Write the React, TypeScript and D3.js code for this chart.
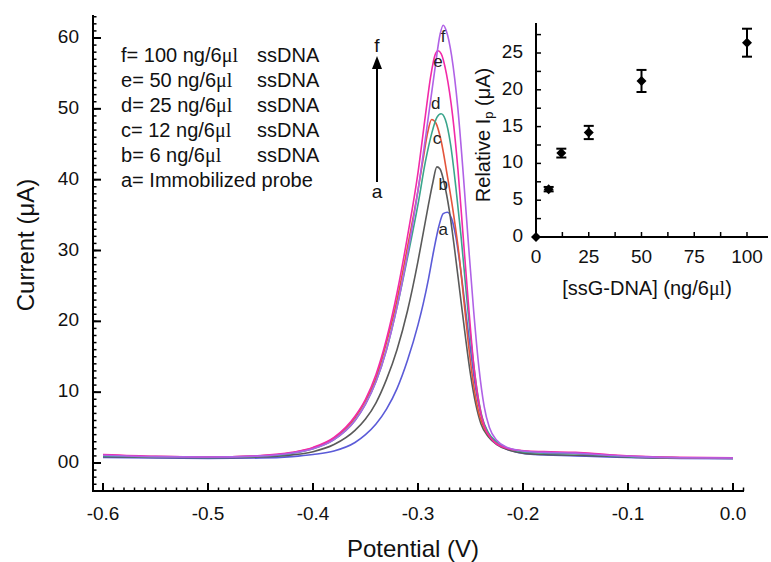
import React from "react";
import * as d3 from "d3";

// ---------- DATA ----------
const curveNames = ["a", "b", "c", "d", "e", "f"];
const curveColors = ["#5b5bd8", "#5a5a5a", "#e4553c", "#3aa58c", "#f22aa8", "#b062e6"];

const curveA: [number, number][] = [[-0.60,0.8],[-0.55,0.7],[-0.50,0.65],[-0.45,0.7],[-0.42,0.9],[-0.40,1.2],[-0.38,1.7],[-0.36,2.9],[-0.35,4],[-0.34,5.5],[-0.33,7.6],[-0.32,10.5],[-0.31,14.5],[-0.30,19.5],[-0.295,22.5],[-0.29,26],[-0.285,30],[-0.28,33.5],[-0.276,35.2],[-0.272,35.4],[-0.268,34.5],[-0.264,32],[-0.26,28],[-0.255,22],[-0.25,16],[-0.245,10.5],[-0.24,6.8],[-0.234,4.4],[-0.227,3],[-0.218,2.1],[-0.205,1.5],[-0.19,1.2],[-0.15,1.0],[-0.12,0.85],[-0.09,0.75],[-0.05,0.65],[0,0.6]];
const curveB: [number, number][] = [[-0.60,0.9],[-0.55,0.8],[-0.50,0.75],[-0.45,0.85],[-0.42,1.15],[-0.40,1.6],[-0.38,2.6],[-0.36,4.6],[-0.35,6.2],[-0.34,8.5],[-0.33,11.8],[-0.32,16],[-0.31,21.5],[-0.30,28.5],[-0.295,32.5],[-0.29,36.5],[-0.286,39.5],[-0.282,41.8],[-0.279,41.5],[-0.275,39.5],[-0.27,35.5],[-0.265,30],[-0.26,24],[-0.255,18],[-0.25,12.5],[-0.245,8.3],[-0.24,5.5],[-0.233,3.7],[-0.225,2.6],[-0.215,1.9],[-0.20,1.4],[-0.18,1.2],[-0.15,1.1],[-0.12,0.95],[-0.09,0.8],[-0.05,0.7],[0,0.65]];
const curveC: [number, number][] = [[-0.60,1.1],[-0.55,0.9],[-0.50,0.85],[-0.45,1.0],[-0.42,1.45],[-0.40,2.1],[-0.38,3.5],[-0.36,6.4],[-0.35,8.8],[-0.34,12],[-0.33,17],[-0.32,23],[-0.31,30.5],[-0.30,38.5],[-0.295,43],[-0.291,46.5],[-0.287,48.5],[-0.283,48],[-0.278,45.5],[-0.272,40.5],[-0.266,35],[-0.261,29.5],[-0.256,22.5],[-0.251,15.5],[-0.246,10],[-0.241,6.5],[-0.235,4.4],[-0.227,3],[-0.215,2.1],[-0.20,1.7],[-0.18,1.5],[-0.15,1.4],[-0.12,1.1],[-0.09,0.9],[-0.05,0.75],[0,0.7]];
const curveD: [number, number][] = [[-0.60,1.0],[-0.55,0.85],[-0.50,0.8],[-0.45,0.95],[-0.42,1.35],[-0.40,2.0],[-0.38,3.3],[-0.36,6.0],[-0.35,8.3],[-0.34,11.5],[-0.33,16],[-0.32,22],[-0.31,29],[-0.30,36.5],[-0.293,42.5],[-0.287,46.5],[-0.282,48.8],[-0.278,49.3],[-0.274,48.5],[-0.269,45],[-0.264,39],[-0.259,32],[-0.254,24],[-0.249,16.5],[-0.244,10.5],[-0.239,6.5],[-0.233,4.3],[-0.225,3],[-0.215,2.1],[-0.20,1.6],[-0.18,1.4],[-0.15,1.3],[-0.12,1.05],[-0.09,0.85],[-0.05,0.75],[0,0.7]];
const curveE: [number, number][] = [[-0.60,1.2],[-0.55,0.95],[-0.50,0.85],[-0.45,1.05],[-0.42,1.5],[-0.40,2.2],[-0.38,3.6],[-0.36,6.6],[-0.35,9],[-0.34,12.5],[-0.33,17.5],[-0.32,24],[-0.31,32],[-0.30,41],[-0.293,49],[-0.288,54.5],[-0.284,57.5],[-0.281,58.2],[-0.278,57.8],[-0.273,55],[-0.267,49],[-0.262,41.5],[-0.257,32],[-0.252,22.5],[-0.247,14],[-0.242,8.5],[-0.237,5.3],[-0.23,3.4],[-0.22,2.3],[-0.205,1.8],[-0.18,1.6],[-0.15,1.5],[-0.12,1.2],[-0.09,0.95],[-0.05,0.8],[0,0.75]];
const curveF: [number, number][] = [[-0.60,1.1],[-0.55,0.9],[-0.50,0.85],[-0.45,1.0],[-0.42,1.4],[-0.40,2.0],[-0.38,3.3],[-0.36,6.0],[-0.35,8.3],[-0.34,11.5],[-0.33,16],[-0.32,22],[-0.31,29.5],[-0.30,38.5],[-0.29,49],[-0.284,55.5],[-0.279,60.5],[-0.276,61.8],[-0.273,61],[-0.268,57.5],[-0.262,50],[-0.257,41],[-0.252,31],[-0.247,21.5],[-0.242,13.5],[-0.237,8],[-0.232,5],[-0.225,3.2],[-0.215,2.2],[-0.20,1.7],[-0.18,1.5],[-0.15,1.4],[-0.12,1.1],[-0.09,0.9],[-0.05,0.75],[0,0.7]];
const curves = [curveA, curveB, curveC, curveD, curveE, curveF];

// curve letter label positions (potential, current)
const curveLabelPos: [number, number][] = [[-0.276, 32.8], [-0.276, 39.2], [-0.282, 45.6], [-0.283, 50.6], [-0.281, 56.5], [-0.276, 60.0]];

const xTicks = [-0.6, -0.5, -0.4, -0.3, -0.2, -0.1, 0.0];
const xTickLabels = ["-0.6", "-0.5", "-0.4", "-0.3", "-0.2", "-0.1", "0.0"];
const yTicks = [0, 10, 20, 30, 40, 50, 60];
const yTickLabels = ["00", "10", "20", "30", "40", "50", "60"];

const legendLetters = ["f", "e", "d", "c", "b"];
const legendAmounts = ["100", "50", "25", "12", "6"];
const legendLast = "a= Immobilized probe";

// inset
const insetConc = [0, 6, 12, 25, 50, 100];
const insetIp = [0, 6.5, 11.4, 14.2, 21.2, 26.4];
const insetErr = [0, 0.3, 0.6, 0.9, 1.5, 1.9];
const insetXTicks = [0, 25, 50, 75, 100];
const insetYTicks = [0, 5, 10, 15, 20, 25];

export default function App() {
  const W = 771, H = 562;
  const x = d3.scaleLinear().domain([-0.6, 0.0]).range([103, 733]);
  const y = d3.scaleLinear().domain([0, 60]).range([463, 38]);
  const axL = 93, axB = 491, axTop = 15, axR = 744;

  const line = d3.line<[number, number]>()
    .x(d => x(d[0])).y(d => y(d[1])).curve(d3.curveMonotoneX);

  const xMinor = d3.range(-60, 2).map(i => i / 100);
  const yMinor = d3.range(-3, 64);

  const ix = d3.scaleLinear().domain([0, 100]).range([536, 747]);
  const iy = d3.scaleLinear().domain([0, 25]).range([237, 53]);
  const iyMinor = d3.range(0, 11).map(i => i * 2.5 + 2.5);
  const ixMinor = [12.5, 37.5, 62.5, 87.5];

  const font = "'Liberation Sans', Arial, Helvetica, sans-serif";
  const serif = "'Liberation Serif', 'Times New Roman', serif";

  return (
    <svg width={W} height={H} style={{ position: "absolute", left: 0, top: 0, background: "#fff" }} fontFamily={font}>
      <rect width={W} height={H} fill="#fff" />
      {/* curves */}
      <g fill="none">
        {curves.map((c, i) => (
          <path key={i} d={line(c) || ""} stroke={curveColors[i]} strokeWidth={1.6} />
        ))}
      </g>
      {/* curve labels */}
      {curveLabelPos.map((p, i) => (
        <text key={i} x={x(p[0])} y={y(p[1])} fontSize={17} textAnchor="middle" dominantBaseline="middle" fill="#222">{curveNames[i]}</text>
      ))}

      {/* main axes */}
      <g stroke="#000" strokeWidth={2}>
        <line x1={axL} y1={axTop} x2={axL} y2={axB + 1} />
        <line x1={axL - 1} y1={axB} x2={axR} y2={axB} />
        {xMinor.map((v, i) => (
          <line key={"xm" + i} x1={x(v)} x2={x(v)} y1={axB} y2={axB - 3.5} strokeWidth={1.5} />
        ))}
        {xTicks.map((v, i) => (
          <line key={"xt" + i} x1={x(v)} x2={x(v)} y1={axB} y2={axB - 8} strokeWidth={2} />
        ))}
        {yMinor.map((v, i) => (
          <line key={"ym" + i} x1={axL} x2={axL + 3.5} y1={y(v)} y2={y(v)} strokeWidth={1.5} />
        ))}
        {yTicks.map((v, i) => (
          <line key={"yt" + i} x1={axL} x2={axL + 8} y1={y(v)} y2={y(v)} strokeWidth={2} />
        ))}
      </g>
      {xTicks.map((v, i) => (
        <text key={"xl" + i} x={x(v)} y={520} fontSize={19} textAnchor="middle" fill="#111">{xTickLabels[i]}</text>
      ))}
      {yTicks.map((v, i) => (
        <text key={"yl" + i} x={79} y={y(v)} fontSize={19} textAnchor="end" dominantBaseline="middle" fill="#111">{yTickLabels[i]}</text>
      ))}
      <text x={413} y={557} fontSize={24} textAnchor="middle" fill="#111">Potential (V)</text>
      <text transform="translate(34,245) rotate(-90)" fontSize={24} textAnchor="middle" fill="#111">Current (μA)</text>

      {/* legend */}
      {legendLetters.map((l, i) => (
        <g key={"lg" + i} fontSize={20} fill="#111">
          <text x={121} y={57 + i * 25} dominantBaseline="middle">
            {l}= {legendAmounts[i]} ng/6<tspan fontFamily={serif}>μl</tspan>
          </text>
          <text x={257} y={57 + i * 25} dominantBaseline="middle">ssDNA</text>
        </g>
      ))}
      <text x={121} y={57 + 5 * 25} fontSize={20} dominantBaseline="middle" fill="#111">{legendLast}</text>

      {/* arrow */}
      <line x1={377} y1={182} x2={377} y2={66} stroke="#000" strokeWidth={2} />
      <path d="M377,56 L382,69 L372,69 Z" fill="#000" />
      <text x={377} y={47} fontSize={19} textAnchor="middle" dominantBaseline="middle" fill="#111">f</text>
      <text x={377} y={193} fontSize={19} textAnchor="middle" dominantBaseline="middle" fill="#111">a</text>

      {/* inset */}
      <g stroke="#000" strokeWidth={2}>
        <line x1={536} y1={23} x2={536} y2={238} />
        <line x1={535} y1={237} x2={768} y2={237} />
        {iyMinor.map((v, i) => (
          <line key={"iym" + i} x1={536} x2={541} y1={iy(v)} y2={iy(v)} strokeWidth={1.5} />
        ))}
        {ixMinor.concat(insetXTicks.slice(1)).map((v, i) => (
          <line key={"ixm" + i} x1={ix(v)} x2={ix(v)} y1={237} y2={232} strokeWidth={1.5} />
        ))}
      </g>
      {insetYTicks.map((v, i) => (
        <text key={"iyl" + i} x={523} y={iy(v)} fontSize={19} textAnchor="end" dominantBaseline="middle" fill="#111">{v}</text>
      ))}
      {insetXTicks.map((v, i) => (
        <text key={"ixl" + i} x={ix(v)} y={258} fontSize={19} textAnchor="middle" dominantBaseline="middle" fill="#111">{v}</text>
      ))}
      <text x={647} y={290} fontSize={20} textAnchor="middle" dominantBaseline="middle" fill="#111">
        [ssG-DNA] (ng/6<tspan fontFamily={serif}>μl</tspan>)
      </text>
      <text transform="translate(485,135) rotate(-90)" fontSize={20} textAnchor="middle" dominantBaseline="middle" fill="#111">
        Relative I<tspan fontSize={13} dy={5}>p</tspan><tspan dy={-5}> (μA)</tspan>
      </text>
      {insetConc.map((c, i) => (
        <g key={"pt" + i}>
          {insetErr[i] > 0 && (
            <g stroke="#000" strokeWidth={2}>
              <line x1={ix(c)} x2={ix(c)} y1={iy(insetIp[i] - insetErr[i])} y2={iy(insetIp[i] + insetErr[i])} />
              <line x1={ix(c) - 5} x2={ix(c) + 5} y1={iy(insetIp[i] - insetErr[i])} y2={iy(insetIp[i] - insetErr[i])} />
              <line x1={ix(c) - 5} x2={ix(c) + 5} y1={iy(insetIp[i] + insetErr[i])} y2={iy(insetIp[i] + insetErr[i])} />
            </g>
          )}
          <path d={`M${ix(c)},${iy(insetIp[i]) - 5} L${ix(c) + 5},${iy(insetIp[i])} L${ix(c)},${iy(insetIp[i]) + 5} L${ix(c) - 5},${iy(insetIp[i])} Z`} fill="#000" />
        </g>
      ))}
    </svg>
  );
}
